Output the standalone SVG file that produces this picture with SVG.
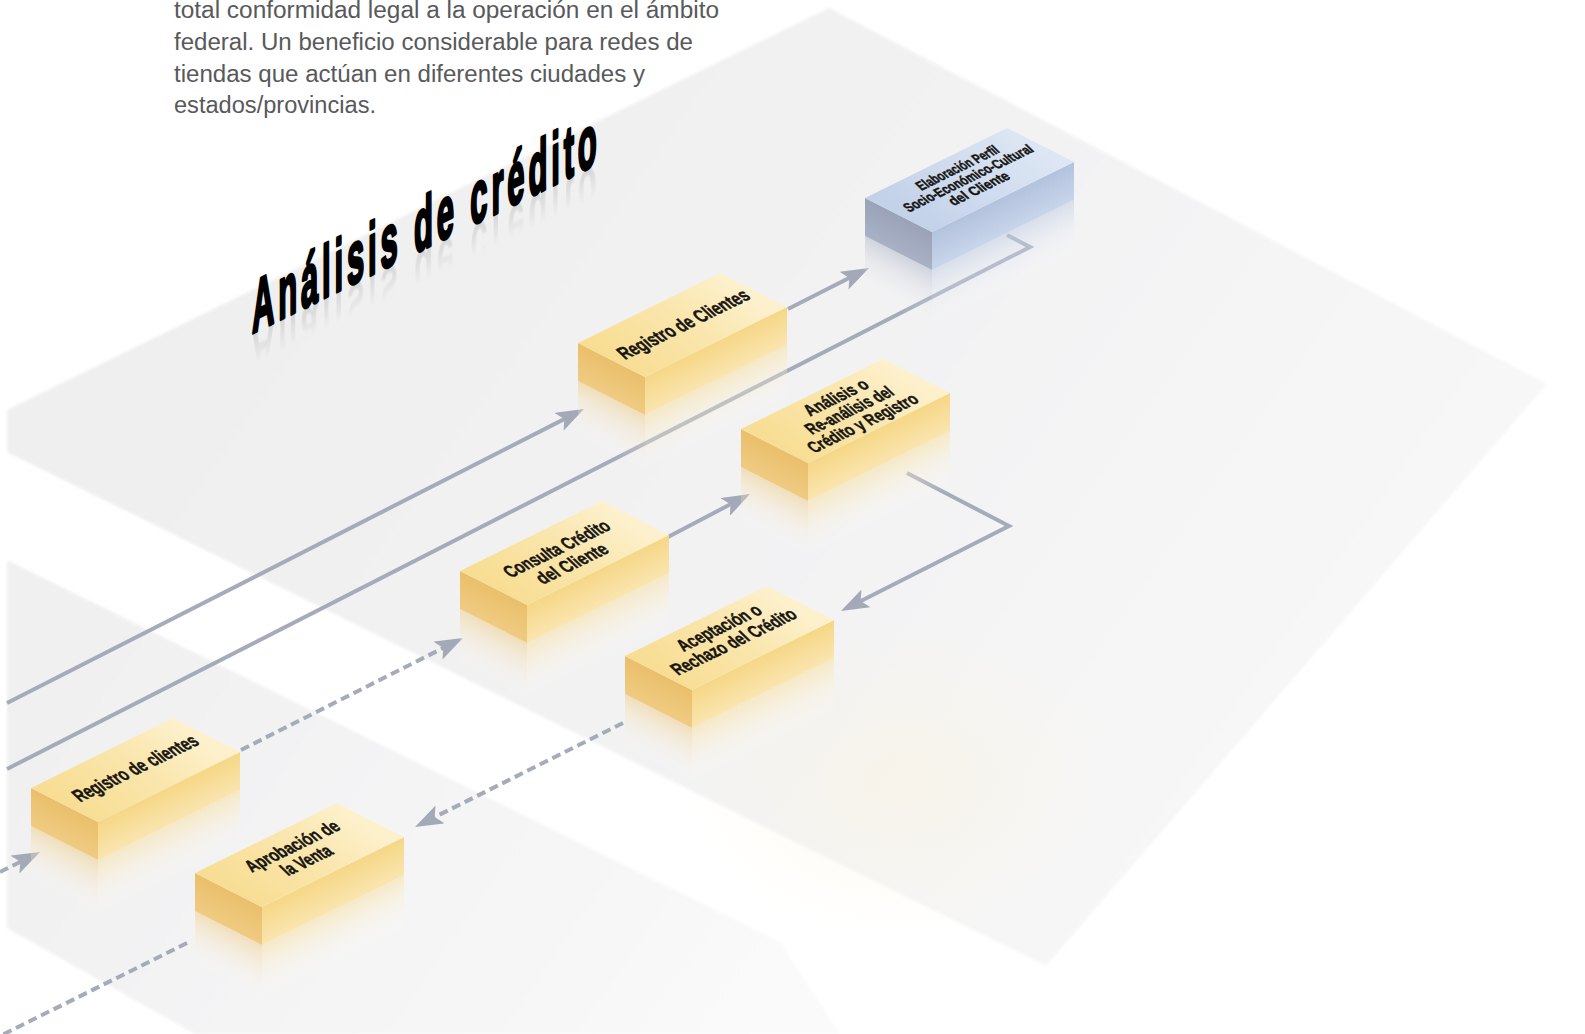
<svg xmlns="http://www.w3.org/2000/svg" xmlns:xlink="http://www.w3.org/1999/xlink" width="1585" height="1034" viewBox="0 0 1585 1034">
  <style>
    .para { font-family: "Liberation Sans", "Open Sans", Arial, sans-serif; font-size: 23px; fill: #58595b; }
    .lbl { font-family: "Liberation Sans", "Noto Sans", Arial, sans-serif; font-weight: 700; fill: #161512; stroke: #161512; stroke-width: 0.45; text-anchor: middle; }
    .title { font-family: "Liberation Sans", "Noto Sans", Arial, sans-serif; font-weight: 700; font-size: 74px; }
    .wire { fill: none; stroke: #a6abba; stroke-width: 4; }
    .dash { stroke-dasharray: 9 5; }
    .arrow { marker-end: url(#arrow); }
  </style>
  <defs>
    <marker id="arrow" markerUnits="userSpaceOnUse" markerWidth="28" markerHeight="20" viewBox="0 0 28 20" refX="14" refY="10" orient="auto">
      <path d="M0,0 L28,10 L0,20 L6,10 Z" fill="#a4a9b8"/>
    </marker>

    <!-- floor planes -->
    <linearGradient id="gPlaneA" gradientUnits="userSpaceOnUse" x1="300" y1="150" x2="1300" y2="850">
      <stop offset="0" stop-color="#efeff0"/>
      <stop offset="0.6" stop-color="#f3f3f4"/>
      <stop offset="1" stop-color="#f8f8f9"/>
    </linearGradient>
    <linearGradient id="gPlaneB" gradientUnits="userSpaceOnUse" x1="100" y1="600" x2="750" y2="1050">
      <stop offset="0" stop-color="#f0f0f1"/>
      <stop offset="0.6" stop-color="#f5f5f6"/>
      <stop offset="1" stop-color="#fafafa"/>
    </linearGradient>
    <radialGradient id="gWarm" cx="0.5" cy="0.5" r="0.5">
      <stop offset="0" stop-color="#fbf2dc" stop-opacity="0.45"/>
      <stop offset="1" stop-color="#fbf2dc" stop-opacity="0"/>
    </radialGradient>
    <filter id="edge" x="-2%" y="-2%" width="104%" height="104%">
      <feGaussianBlur stdDeviation="1.5"/>
    </filter>

    <!-- yellow box faces (local space, front-top corner at 0,0) -->
    <linearGradient id="gTopY" gradientUnits="userSpaceOnUse" x1="0" y1="0" x2="75" y2="-104">
      <stop offset="0" stop-color="#f8de95"/>
      <stop offset="0.55" stop-color="#fae6ad"/>
      <stop offset="1" stop-color="#fdf1cd"/>
    </linearGradient>
    <linearGradient id="gLeftY" gradientUnits="userSpaceOnUse" x1="0" y1="0" x2="0" y2="38" gradientTransform="skewY(26.9)">
      <stop offset="0" stop-color="#eabf6b"/>
      <stop offset="1" stop-color="#efcb82"/>
    </linearGradient>
    <linearGradient id="gRightY" gradientUnits="userSpaceOnUse" x1="0" y1="0" x2="0" y2="38" gradientTransform="skewY(-26.2)">
      <stop offset="0" stop-color="#f6d786"/>
      <stop offset="1" stop-color="#fae5b0"/>
    </linearGradient>
    <linearGradient id="gReflLY" gradientUnits="userSpaceOnUse" x1="0" y1="38" x2="0" y2="96" gradientTransform="skewY(26.9)">
      <stop offset="0" stop-color="#f0cf8c" stop-opacity="0.55"/>
      <stop offset="1" stop-color="#ffffff" stop-opacity="0"/>
    </linearGradient>
    <linearGradient id="gReflRY" gradientUnits="userSpaceOnUse" x1="0" y1="38" x2="0" y2="96" gradientTransform="skewY(-26.2)">
      <stop offset="0" stop-color="#f8e2a8" stop-opacity="0.6"/>
      <stop offset="1" stop-color="#ffffff" stop-opacity="0"/>
    </linearGradient>

    <!-- blue box faces -->
    <linearGradient id="gTopB" gradientUnits="userSpaceOnUse" x1="0" y1="0" x2="75" y2="-104">
      <stop offset="0" stop-color="#c3d1e9"/>
      <stop offset="1" stop-color="#dce6f4"/>
    </linearGradient>
    <linearGradient id="gLeftB" gradientUnits="userSpaceOnUse" x1="0" y1="0" x2="0" y2="38" gradientTransform="skewY(26.9)">
      <stop offset="0" stop-color="#9aa2b7"/>
      <stop offset="1" stop-color="#a8b1c5"/>
    </linearGradient>
    <linearGradient id="gRightB" gradientUnits="userSpaceOnUse" x1="0" y1="0" x2="0" y2="38" gradientTransform="skewY(-26.2)">
      <stop offset="0" stop-color="#b3c3dd"/>
      <stop offset="1" stop-color="#c8d5ea"/>
    </linearGradient>
    <linearGradient id="gReflLB" gradientUnits="userSpaceOnUse" x1="0" y1="38" x2="0" y2="96" gradientTransform="skewY(26.9)">
      <stop offset="0" stop-color="#aeb6c9" stop-opacity="0.5"/>
      <stop offset="1" stop-color="#ffffff" stop-opacity="0"/>
    </linearGradient>
    <linearGradient id="gReflRB" gradientUnits="userSpaceOnUse" x1="0" y1="38" x2="0" y2="96" gradientTransform="skewY(-26.2)">
      <stop offset="0" stop-color="#c2cfe4" stop-opacity="0.55"/>
      <stop offset="1" stop-color="#ffffff" stop-opacity="0"/>
    </linearGradient>

    <linearGradient id="gTitleRefl" gradientUnits="userSpaceOnUse" x1="0" y1="457" x2="0" y2="425">
      <stop offset="0" stop-color="#000000" stop-opacity="0.11"/>
      <stop offset="1" stop-color="#000000" stop-opacity="0"/>
    </linearGradient>
    <filter id="soft" x="-20%" y="-40%" width="140%" height="180%">
      <feGaussianBlur stdDeviation="1.3"/>
    </filter>

    <!-- isometric blocks -->
    <g id="box-yellow">
      <polygon points="-67,4 0,38 0,96 -67,62" fill="url(#gReflLY)"/>
      <polygon points="0,38 142,-32 142,26 0,96" fill="url(#gReflRY)"/>
      <polygon points="-67,-34 0,0 0,38 -67,4" fill="url(#gLeftY)"/>
      <polygon points="0,0 142,-70 142,-32 0,38" fill="url(#gRightY)"/>
      <polygon points="0,0 142,-70 75,-104 -67,-34" fill="url(#gTopY)"/>
    </g>
    <g id="box-blue">
      <polygon points="-67,4 0,38 0,96 -67,62" fill="url(#gReflLB)"/>
      <polygon points="0,38 142,-32 142,26 0,96" fill="url(#gReflRB)"/>
      <polygon points="-67,-34 0,0 0,38 -67,4" fill="url(#gLeftB)"/>
      <polygon points="0,0 142,-70 142,-32 0,38" fill="url(#gRightB)"/>
      <polygon points="0,0 142,-70 75,-104 -67,-34" fill="url(#gTopB)"/>
    </g>
  </defs>

  <rect width="1585" height="1034" fill="#ffffff"/>

  <!-- floor -->
  <g id="floor">
    <polygon points="7,410 829,8 1547,384 1046,966 7,452" fill="url(#gPlaneA)" filter="url(#edge)"/>
    <polygon points="7,560 780,942 840,1034 195,1034 7,928" fill="url(#gPlaneB)" filter="url(#edge)"/>
    <ellipse cx="900" cy="780" rx="220" ry="160" fill="url(#gWarm)"/>
  </g>

  <!-- intro paragraph -->
  <g id="intro">
    <text class="para" x="174" y="18" textLength="545" lengthAdjust="spacingAndGlyphs">total conformidad legal a la operación en el ámbito</text>
    <text class="para" x="174" y="50" textLength="519" lengthAdjust="spacingAndGlyphs">federal. Un beneficio considerable para redes de</text>
    <text class="para" x="174" y="81.5" textLength="471" lengthAdjust="spacingAndGlyphs">tiendas que actúan en diferentes ciudades y</text>
    <text class="para" x="174" y="112.5" textLength="202" lengthAdjust="spacingAndGlyphs">estados/provincias.</text>
  </g>

  <!-- heading on the floor: condensed glyphs, slanted baseline, faint mirror -->
  <g id="title" transform="skewY(-26.2) scale(0.42,1)">
    <text class="title" x="600" y="457.5" transform="translate(0,915) scale(1,-1)" fill="url(#gTitleRefl)" filter="url(#soft)" textLength="821" lengthAdjust="spacing">Análisis de crédito</text>
    <text class="title" x="600" y="457.5" fill="#000000" stroke="#000000" stroke-width="3.4" stroke-linejoin="round" textLength="821" lengthAdjust="spacing">Análisis de crédito</text>
  </g>

  <!-- connectors -->
  <g id="connectors">
    <line class="wire arrow" x1="7" y1="703" x2="571.5" y2="415.4"/>
    <polyline class="wire" points="1007,235 1030,247 7,769"/>
    <line class="wire arrow" x1="788" y1="309" x2="856.5" y2="274.3"/>
    <line class="wire arrow" x1="668" y1="537" x2="737.6" y2="500.5"/>
    <polyline class="wire arrow" points="907,473 1009,526 853.5,604.7"/>
    <line class="wire dash arrow" x1="241" y1="750" x2="450.5" y2="644.3"/>
    <line class="wire dash arrow" x1="623" y1="723" x2="427.5" y2="820.7"/>
    <line class="wire dash arrow" x1="0" y1="872" x2="27.5" y2="858.3"/>
    <line class="wire dash" x1="187" y1="943" x2="0" y2="1036"/>
  </g>

  <!-- process blocks -->
  <g id="node-elaboracion-perfil">
    <use href="#box-blue" transform="translate(932,232)"/>
    <g transform="translate(968,178) rotate(-26) skewX(20)">
      <text class="lbl" font-size="14" x="0" y="-14" dy="0.36em" textLength="88" lengthAdjust="spacingAndGlyphs">Elaboración Perfil</text>
      <text class="lbl" font-size="14" x="0" y="0" dy="0.36em" textLength="140" lengthAdjust="spacingAndGlyphs">Socio-Económico-Cultural</text>
      <text class="lbl" font-size="14" x="0" y="14" dy="0.36em" textLength="64" lengthAdjust="spacingAndGlyphs">del Cliente</text>
    </g>
  </g>

  <g id="node-registro-clientes">
    <use href="#box-yellow" transform="translate(645,377)"/>
    <g transform="translate(683,324) rotate(-26) skewX(20)">
      <text class="lbl" font-size="19.5" x="0" y="0" dy="0.36em" textLength="141" lengthAdjust="spacingAndGlyphs">Registro de Clientes</text>
    </g>
  </g>

  <g id="node-analisis-credito">
    <use href="#box-yellow" transform="translate(808,463)"/>
    <g transform="translate(849,410) rotate(-26) skewX(20)">
      <text class="lbl" font-size="17.5" x="0" y="-17.5" dy="0.36em" textLength="67" lengthAdjust="spacingAndGlyphs">Análisis o</text>
      <text class="lbl" font-size="17.5" x="0" y="0" dy="0.36em" textLength="93" lengthAdjust="spacingAndGlyphs">Re-análisis del</text>
      <text class="lbl" font-size="17.5" x="0" y="17.5" dy="0.36em" textLength="118" lengthAdjust="spacingAndGlyphs">Crédito y Registro</text>
    </g>
  </g>

  <g id="node-consulta-credito">
    <use href="#box-yellow" transform="translate(527,605)"/>
    <g transform="translate(564,556) rotate(-26) skewX(20)">
      <text class="lbl" font-size="18.5" x="0" y="-10" dy="0.36em" textLength="113" lengthAdjust="spacingAndGlyphs">Consulta Crédito</text>
      <text class="lbl" font-size="18.5" x="0" y="10" dy="0.36em" textLength="75" lengthAdjust="spacingAndGlyphs">del Cliente</text>
    </g>
  </g>

  <g id="node-aceptacion-rechazo">
    <use href="#box-yellow" transform="translate(692,690)"/>
    <g transform="translate(726,634.5) rotate(-26) skewX(20)">
      <text class="lbl" font-size="18.5" x="0" y="-9.5" dy="0.36em" textLength="89" lengthAdjust="spacingAndGlyphs">Aceptación o</text>
      <text class="lbl" font-size="18.5" x="0" y="9.5" dy="0.36em" textLength="134" lengthAdjust="spacingAndGlyphs">Rechazo del Crédito</text>
    </g>
  </g>

  <g id="node-registro-clientes-tienda">
    <use href="#box-yellow" transform="translate(98,822)"/>
    <g transform="translate(135,768) rotate(-26) skewX(20)">
      <text class="lbl" font-size="19.5" x="0" y="0" dy="0.36em" textLength="134" lengthAdjust="spacingAndGlyphs">Registro de clientes</text>
    </g>
  </g>

  <g id="node-aprobacion-venta">
    <use href="#box-yellow" transform="translate(262,907)"/>
    <g transform="translate(299,853) rotate(-26) skewX(20)">
      <text class="lbl" font-size="18.5" x="0" y="-9.5" dy="0.36em" textLength="100" lengthAdjust="spacingAndGlyphs">Aprobación de</text>
      <text class="lbl" font-size="18.5" x="0" y="9.5" dy="0.36em" textLength="52" lengthAdjust="spacingAndGlyphs">la Venta</text>
    </g>
  </g>
</svg>
